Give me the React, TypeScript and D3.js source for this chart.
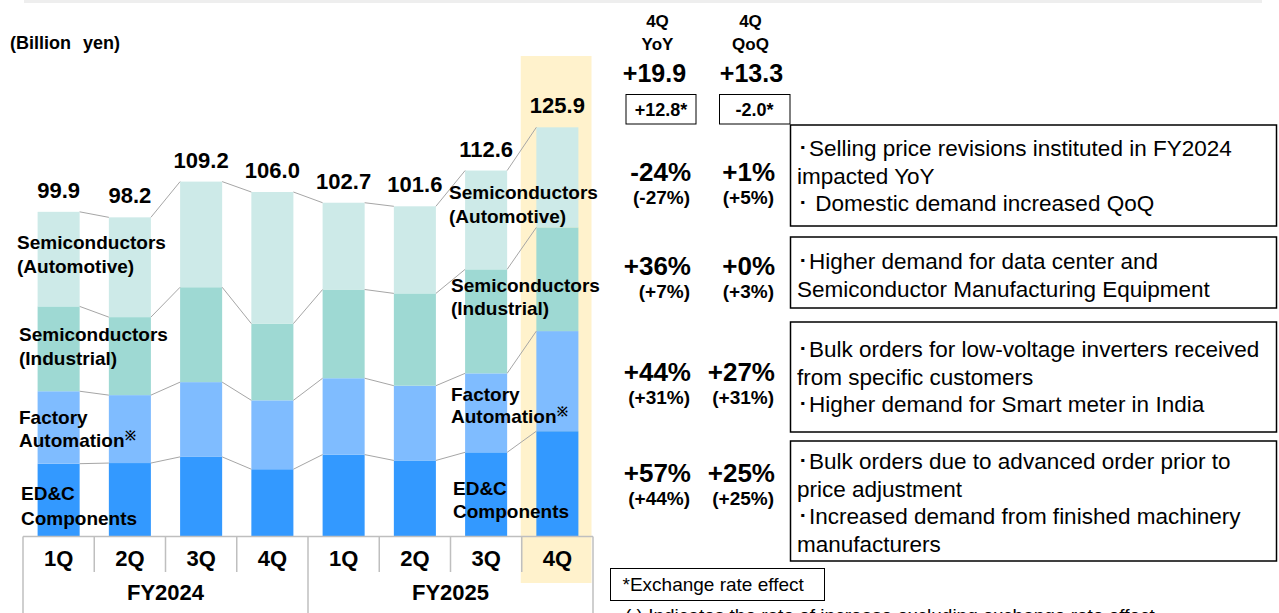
import React from "react";
import * as d3 from "d3";

// quarterly net sales by segment (billion yen)
const quarters = ["1Q", "2Q", "3Q", "4Q", "1Q", "2Q", "3Q", "4Q"];
const fiscalYears = ["FY2024", "FY2025"];
const segmentKeys = ["edc", "fa", "semiInd", "semiAuto"];
const edcValues = [22.4, 22.6, 24.5, 20.7, 25.2, 23.4, 25.9, 32.4];
const faValues = [22.3, 20.9, 23.0, 21.2, 23.5, 23.0, 24.3, 30.8];
const semiIndValues = [26.1, 24.0, 29.2, 23.6, 27.3, 28.4, 32.0, 31.9];
const semiAutoValues = [29.1, 30.7, 32.5, 40.5, 26.7, 26.8, 30.4, 30.8];
const totalLabels = ["99.9", "98.2", "109.2", "106.0", "102.7", "101.6", "112.6", "125.9"];

// segment names, bottom to top
const segmentLines = [
  ["ED&C", "Components"],
  ["Factory", "Automation"],
  ["Semiconductors", "(Industrial)"],
  ["Semiconductors", "(Automotive)"],
];

// right panel, rows top to bottom (Automotive, Industrial, FA, ED&C)
const yoyHeader = ["4Q", "YoY"];
const qoqHeader = ["4Q", "QoQ"];
const yoyTotal = "+19.9";
const qoqTotal = "+13.3";
const yoyFx = "+12.8*";
const qoqFx = "-2.0*";
const yoyPct = ["-24%", "+36%", "+44%", "+57%"];
const yoyPctExFx = ["(-27%)", "(+7%)", "(+31%)", "(+44%)"];
const qoqPct = ["+1%", "+0%", "+27%", "+25%"];
const qoqPctExFx = ["(+5%)", "(+3%)", "(+31%)", "(+25%)"];
const comments = [
  ["･Selling price revisions instituted in FY2024", "impacted YoY", "･ Domestic demand increased QoQ"],
  ["･Higher demand for data center and", "Semiconductor Manufacturing Equipment"],
  ["･Bulk orders for low-voltage inverters received", "from specific customers", "･Higher demand for Smart meter in India"],
  ["･Bulk orders due to advanced order prior to", "price adjustment", "･Increased demand from finished machinery", "manufacturers"],
];
const fxNote = "*Exchange rate effect";
const footNote = "( ) Indicates the rate of increase excluding exchange rate effect";

const FONT = "'Liberation Sans', Arial, Helvetica, sans-serif";
const colors = ["#3399ff", "#7fbcff", "#9ed9d3", "#cdeae8"];

const W = 1279;
const H = 613;

export default function App() {
  const rows = quarters.map((q, i) => ({
    edc: edcValues[i],
    fa: faValues[i],
    semiInd: semiIndValues[i],
    semiAuto: semiAutoValues[i],
  }));
  const stacked = d3.stack().keys(segmentKeys)(rows as any);

  const x = d3
    .scaleBand<number>()
    .domain(d3.range(quarters.length))
    .range([23, 593])
    .paddingInner(0.41)
    .paddingOuter(0.205);
  const bw = x.bandwidth();
  const step = x.step();
  const x0 = x.range()[0];

  const y = d3.scaleLinear().domain([0, 100]).range([536.5, 211.5]);
  const base = y(0);

  // label positions of the two segment-name groups
  const leftLabels = [
    { x: 21, y: [500, 525] },
    { x: 19, y: [424, 447] },
    { x: 19, y: [341, 365] },
    { x: 17, y: [249, 273] },
  ];
  const rightLabels = [
    { x: 453, y: [495, 518] },
    { x: 451, y: [401, 423] },
    { x: 451, y: [292, 315] },
    { x: 449, y: [199, 223] },
  ];

  const boxes = [
    { y0: 125, y1: 226, first: 31 },
    { y0: 237, y1: 308, first: 32 },
    { y0: 322, y1: 432, first: 35 },
    { y0: 441, y1: 561, first: 28 },
  ];
  const mainBase = [180.5, 275, 381, 482];

  const renderLabelGroup = (pos, key) =>
    segmentLines.map((lines, s) => (
      <text
        key={key + s}
        fontFamily={FONT}
        fontWeight="bold"
        fontSize={19}
        fill="#000"
      >
        {lines.map((ln, j) => (
          <tspan key={j} x={pos[s].x} y={pos[s].y[j]}>
            {ln}
            {s === 1 && j === 1 ? (
              <tspan fontSize={13} dy={-7}>
                ※
              </tspan>
            ) : null}
          </tspan>
        ))}
      </text>
    ));

  return (
    <div
      style={{
        position: "absolute",
        left: 0,
        top: 0,
        width: W,
        height: H,
        background: "#fff",
        overflow: "hidden",
      }}
    >
      <svg width={W} height={H} style={{ display: "block" }}>
        <rect x={24} y={0} width={1238} height={3} fill="#eeeeee" />

        {/* highlight for the latest quarter */}
        <rect
          x={x0 + step * 7 - 1}
          y={56}
          width={step - 0.5}
          height={583 - 56}
          fill="#fff2cc"
        />

        {/* stacked bars */}
        {stacked.map((layer, s) =>
          layer.map((d, i) => (
            <rect
              key={s + "-" + i}
              x={x(i)}
              y={y(d[1])}
              width={bw}
              height={y(d[0]) - y(d[1])}
              fill={colors[s]}
            />
          ))
        )}

        {/* connector lines between segment boundaries */}
        {stacked.map((layer, s) =>
          layer.slice(0, -1).map((d, i) => (
            <line
              key={"c" + s + "-" + i}
              x1={(x(i) as number) + bw}
              y1={y(d[1])}
              x2={x(i + 1)}
              y2={y(layer[i + 1][1])}
              stroke="#a6a6a6"
              strokeWidth={1}
            />
          ))
        )}

        {/* totals */}
        {totalLabels.map((t, i) => (
          <text
            key={"t" + i}
            x={(x(i) as number) + bw / 2}
            y={y(stacked[3][i][1]) - 14}
            textAnchor="middle"
            fontFamily={FONT}
            fontWeight="bold"
            fontSize={22}
          >
            {t}
          </text>
        ))}

        {renderLabelGroup(leftLabels, "l")}
        {renderLabelGroup(rightLabels, "r")}

        <text x={10} y={49} fontFamily={FONT} fontWeight="bold" fontSize={18} wordSpacing={7}>
          (Billion yen)
        </text>

        {/* category table */}
        <g stroke="#bfbfbf" strokeWidth={1.5}>
          <line x1={x0} x2={x0 + step * 8} y1={base} y2={base} />
          {d3.range(9).map((k) => (
            <line
              key={"v" + k}
              x1={x0 + step * k}
              x2={x0 + step * k}
              y1={base}
              y2={k % 4 === 0 ? H : 572}
            />
          ))}
        </g>
        {quarters.map((q, i) => (
          <text
            key={"q" + i}
            x={(x(i) as number) + bw / 2}
            y={566}
            textAnchor="middle"
            fontFamily={FONT}
            fontWeight="bold"
            fontSize={22}
          >
            {q}
          </text>
        ))}
        {fiscalYears.map((fy, k) => (
          <text
            key={fy}
            x={x0 + step * (4 * k + 2)}
            y={600}
            textAnchor="middle"
            fontFamily={FONT}
            fontWeight="bold"
            fontSize={22}
          >
            {fy}
          </text>
        ))}

        {/* right panel */}
        <g fontFamily={FONT} fontWeight="bold" textAnchor="middle">
          {yoyHeader.map((h, j) => (
            <text key={"yh" + j} x={657.5} y={26.7 + j * 23.3} fontSize={17}>
              {h}
            </text>
          ))}
          {qoqHeader.map((h, j) => (
            <text key={"qh" + j} x={750.5} y={26.7 + j * 23.3} fontSize={17}>
              {h}
            </text>
          ))}
          <text x={654.5} y={81.5} fontSize={25}>
            {yoyTotal}
          </text>
          <text x={751.5} y={81.5} fontSize={25}>
            {qoqTotal}
          </text>
          <rect x={626} y={94.5} width={70} height={29.5} fill="none" stroke="#000" strokeWidth={1} />
          <rect x={719.5} y={94.5} width={70.5} height={29.5} fill="none" stroke="#000" strokeWidth={1} />
          <text x={661} y={116} fontSize={18}>
            {yoyFx}
          </text>
          <text x={754.5} y={116} fontSize={18}>
            {qoqFx}
          </text>
        </g>
        <g fontFamily={FONT} fontWeight="bold" textAnchor="end">
          {yoyPct.map((p, r) => (
            <g key={"row" + r}>
              <text x={691} y={mainBase[r]} fontSize={26}>
                {p}
              </text>
              <text x={690} y={mainBase[r] + 23} fontSize={19}>
                {yoyPctExFx[r]}
              </text>
              <text x={775} y={mainBase[r]} fontSize={26}>
                {qoqPct[r]}
              </text>
              <text x={774} y={mainBase[r] + 23} fontSize={19}>
                {qoqPctExFx[r]}
              </text>
            </g>
          ))}
        </g>
        {comments.map((lines, r) => (
          <g key={"box" + r}>
            <rect
              x={790.5}
              y={boxes[r].y0}
              width={486}
              height={boxes[r].y1 - boxes[r].y0}
              fill="#fff"
              stroke="#000"
              strokeWidth={1.5}
            />
            <text fontFamily={FONT} fontSize={22.5} fill="#000">
              {lines.map((ln, j) => (
                <tspan key={j} x={797} y={boxes[r].y0 + boxes[r].first + j * 27.5}>
                  {ln}
                </tspan>
              ))}
            </text>
          </g>
        ))}
        <rect x={610.5} y={568.5} width={214} height={32} fill="none" stroke="#000" strokeWidth={1} />
        <text x={622.5} y={591} fontFamily={FONT} fontSize={19}>
          {fxNote}
        </text>
        <text x={625} y={622} fontFamily={FONT} fontSize={19}>
          {footNote}
        </text>
      </svg>
    </div>
  );
}
